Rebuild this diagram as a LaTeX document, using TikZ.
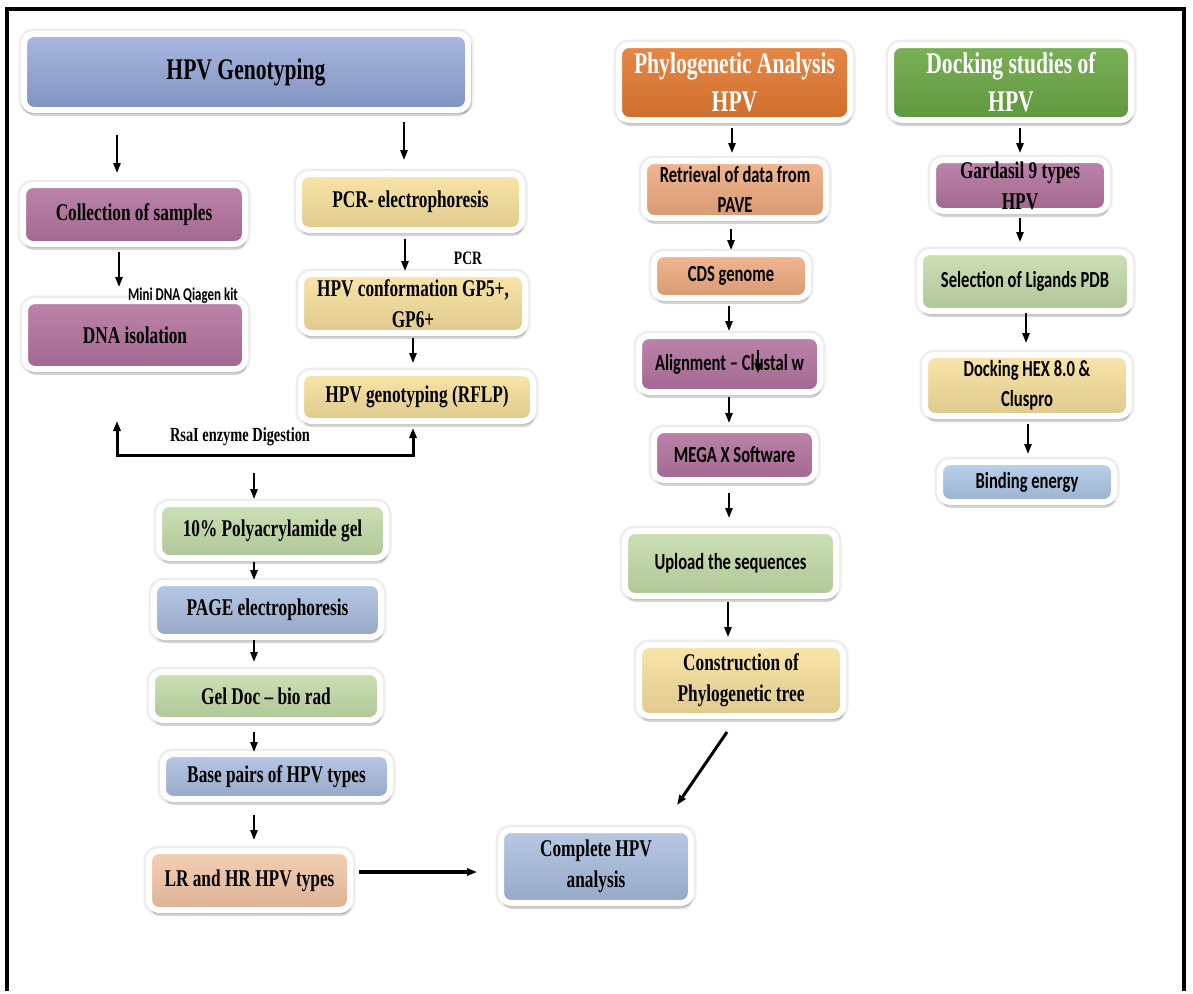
\documentclass[tikz,border=0pt]{standalone}
\usepackage{fontspec}
\usetikzlibrary{arrows.meta,shadows,calc}

\newfontfamily\tnrfont[FakeStretch=0.72]{Liberation Serif}
\newfontfamily\calfont[FakeStretch=0.72]{Carlito}

\definecolor{hpvblue}{HTML}{93A6DA}
\definecolor{purp}{HTML}{B4739F}
\definecolor{yell}{HTML}{F8E09B}
\definecolor{lgreen}{HTML}{C3DCA9}
\definecolor{lblue}{HTML}{AABFE0}
\definecolor{peach}{HTML}{F4C6A6}
\definecolor{lorange}{HTML}{EFAA7E}
\definecolor{orng}{HTML}{E57A31}
\definecolor{dgreen}{HTML}{6BA745}
\definecolor{skyblue}{HTML}{AECAE9}

\tikzstyle{box}=[rounded corners=5pt,draw=white,line width=3pt,inner sep=0pt,outer sep=0pt,align=center,
  drop shadow={shadow xshift=0.6pt,shadow yshift=-3pt,opacity=0.12,fill=black},
  drop shadow={shadow xshift=0.3pt,shadow yshift=-1.5pt,shadow scale=1.015,opacity=0.15,fill=black},
  preaction={draw=black,draw opacity=0.07,line width=5.5pt}]
\tikzstyle{bluehead}=[box,top color=hpvblue!80!white,bottom color=hpvblue!88!black]
\tikzstyle{orangehead}=[box,top color=orng!90!white,bottom color=orng!90!black,text=white]
\tikzstyle{greenhead}=[box,top color=dgreen!90!white,bottom color=dgreen!90!black,text=white]
\tikzstyle{purpbox}=[box,top color=purp!88!white,bottom color=purp!90!black]
\tikzstyle{yellbox}=[box,top color=yell!85!white,bottom color=yell!90!black]
\tikzstyle{greenbox}=[box,top color=lgreen!85!white,bottom color=lgreen!90!black]
\tikzstyle{bluebox}=[box,top color=lblue!85!white,bottom color=lblue!88!black]
\tikzstyle{peachbox}=[box,top color=peach!85!white,bottom color=peach!90!black]
\tikzstyle{orangebox}=[box,top color=lorange!85!white,bottom color=lorange!90!black]
\tikzstyle{skybox}=[box,top color=skyblue!85!white,bottom color=skyblue!88!black]
\tikzstyle{serif}=[font=\tnrfont\bfseries\fontsize{12}{15.5}\selectfont]
\tikzstyle{sans}=[font=\calfont\bfseries\fontsize{11.5}{15}\selectfont]
\tikzstyle{head}=[font=\tnrfont\bfseries\fontsize{15}{19}\selectfont]
\tikzstyle{arr}=[-{Triangle[length=5pt,width=3.6pt]},line width=1pt]

\begin{document}
\begin{tikzpicture}[x=0.5pt,y=-0.5pt]

   \fill[white] (0,0) rectangle (1193,991);
   \draw[line width=2pt] (6.5,991) -- (6.5,8.5) -- (1184,8.5) -- (1184,991);

   % HPV genotyping
   \node[bluehead,head,minimum width=222pt,minimum height=38pt] (gen) at (246,72) {HPV Genotyping};
   \node[purpbox,serif,minimum width=111pt,minimum height=29.5pt] (col) at (134,214.5) {Collection of samples};
   \node[purpbox,serif,minimum width=110pt,minimum height=34pt] (dna) at (135,335) {DNA isolation};
   \node[yellbox,serif,minimum width=111.5pt,minimum height=28pt] (pcr) at (410.5,202) {PCR- electrophoresis};
   \node[yellbox,serif,minimum width=112pt,minimum height=29.5pt] (conf) at (413,303.5) {HPV conformation GP5+,\\GP6+};
   \node[yellbox,serif,minimum width=116pt,minimum height=24pt] (rflp) at (417,397) {HPV genotyping (RFLP)};
   \node[greenbox,serif,minimum width=113.5pt,minimum height=27pt] (poly) at (272.5,531) {10\% Polyacrylamide gel};
   \node[bluebox,serif,minimum width=113.5pt,minimum height=27pt] (page) at (267.5,610) {PAGE electrophoresis};
   \node[greenbox,serif,minimum width=114pt,minimum height=24pt] (geldoc) at (266,696) {Gel Doc – bio rad};
   \node[bluebox,serif,minimum width=113.5pt,minimum height=22.5pt] (bp) at (276.5,776.5) {Base pairs of HPV types};
   \node[peachbox,serif,minimum width=100.5pt,minimum height=29.5pt] (lrhr) at (249.5,880.5) {LR and HR HPV types};
   \node[bluebox,serif,minimum width=95pt,minimum height=36.5pt] (compl) at (596,866.5) {Complete HPV\\analysis};

   % phylogenetic analysis
   \node[orangehead,head,minimum width=115.5pt,minimum height=37.5pt] (phylo) at (734.5,82.5) {Phylogenetic Analysis\\HPV};
   \node[orangebox,sans,minimum width=91pt,minimum height=28.5pt] (retr) at (735,189.5) {Retrieval of data from\\PAVE};
   \node[orangebox,sans,minimum width=77pt,minimum height=22pt] (cds) at (731,276) {CDS genome};
   \node[purpbox,sans,minimum width=90.5pt,minimum height=28pt] (align) at (729.5,364) {Alignment – Clustal w};
   \node[purpbox,sans,minimum width=80.5pt,minimum height=25pt] (mega) at (734.5,455) {MEGA X Software};
   \node[greenbox,sans,minimum width=105.5pt,minimum height=32.5pt] (upl) at (730.5,563.5) {Upload the sequences};
   \node[yellbox,serif,minimum width=102pt,minimum height=35.5pt] (cons) at (741,680.5) {Construction of\\Phylogenetic tree};

   % docking
   \node[greenhead,head,minimum width=120pt,minimum height=37.5pt] (dock) at (1011,82.5) {Docking studies of\\HPV};
   \node[purpbox,serif,minimum width=87pt,minimum height=25.5pt] (gard) at (1020,185.5) {Gardasil 9 types\\HPV};
   \node[greenbox,sans,minimum width=105pt,minimum height=29.5pt] (sel) at (1025,281.5) {Selection of Ligands PDB};
   \node[yellbox,sans,minimum width=102pt,minimum height=30.5pt] (hex) at (1027,385.5) {Docking HEX 8.0 \&\\Cluspro};
   \node[skybox,sans,minimum width=87pt,minimum height=20pt] (bind) at (1027,482) {Binding energy};

   % side notes
   \node[font=\calfont\bfseries\fontsize{9}{10}\selectfont] (qiagen) at (183,296) {Mini DNA Qiagen kit};
   \node[font=\tnrfont\bfseries\fontsize{9.5}{11}\selectfont] (pcrlbl) at (468,258) {PCR};
   \node[font=\tnrfont\bfseries\fontsize{10}{12}\selectfont] (rsai) at (240,437) {RsaI enzyme Digestion};

   \draw[arr] ($(gen.south -| 117,0)+(0,25)$) -- ($(col.north -| 117,0)+(0,-12)$);
   \draw[arr] ($(gen.south -| 404,0)+(0,12)$) -- ($(pcr.north -| 404,0)+(0,-14)$);
   \draw[arr] ($(col.south -| 119,0)+(0,8)$) -- ($(dna.north -| 119,0)+(0,-14)$);
   \draw[arr] ($(pcr.south -| 405,0)+(0,9)$) -- ($(conf.north -| 405,0)+(0,-3)$);
   \draw[arr] ($(conf.south -| 413,0)+(0,5)$) -- ($(rflp.north -| 413,0)+(0,-10)$);

   \coordinate (dig) at (254,455);
   \draw[{Triangle[length=5pt,width=3.6pt]}-{Triangle[length=5pt,width=3.6pt]},line width=1.5pt]
      ($(dna.south -| 117,0)+(0,52)$) |- (dig) -| ($(rflp.south -| 413,0)+(0,7)$);

   \draw[arr] ($(dig)+(0,18)$) -- ($(poly.north -| 254,0)+(0,-5)$);
   \draw[arr] ($(poly.south -| 254,0)+(0,4)$) -- ($(page.north -| 254,0)+(0,-3)$);
   \draw[arr] ($(page.south -| 254,0)+(0,3)$) -- ($(geldoc.north -| 254,0)+(0,-10)$);
   \draw[arr] ($(geldoc.south -| 254,0)+(0,12)$) -- ($(bp.north -| 254,0)+(0,-2)$);
   \draw[arr] ($(bp.south -| 254,0)+(0,16)$) -- ($(lrhr.north -| 254,0)+(0,-11)$);
   \draw[arr,line width=2pt] ($(lrhr.east |- 0,872)+(9,0)$) -- ($(compl.west |- 0,872)+(-24,0)$);
   \draw[arr,line width=1.5pt] ($(cons.south)+(-14,16)$) -- ($(compl.north)+(81,-25)$);

   \draw[arr] ($(phylo.south -| 732,0)+(0,8)$) -- ($(retr.north -| 732,0)+(0,-8)$);
   \draw[arr] ($(retr.south -| 731,0)+(0,11)$) -- ($(cds.north -| 731,0)+(0,-4)$);
   \draw[arr] ($(cds.south -| 729,0)+(0,8)$) -- ($(align.north -| 729,0)+(0,-5)$);
   \draw[arr,line width=0.7pt] ($(align.north -| 758,0)+(0,14)$) -- ($(align.north -| 758,0)+(0,37)$);
   \draw[arr] ($(align.south -| 729,0)+(0,5)$) -- ($(mega.north -| 729,0)+(0,-7)$);
   \draw[arr] ($(mega.south -| 729,0)+(0,13)$) -- ($(upl.north -| 729,0)+(0,-13)$);
   \draw[arr] ($(upl.south -| 728,0)+(0,6)$) -- ($(cons.north -| 728,0)+(0,-8)$);

   \draw[arr] ($(dock.south -| 1020,0)+(0,8)$) -- ($(gard.north -| 1020,0)+(0,-7)$);
   \draw[arr] ($(gard.south -| 1020,0)+(0,7)$) -- ($(sel.north -| 1020,0)+(0,-10)$);
   \draw[arr] ($(sel.south -| 1026,0)+(0,2)$) -- ($(hex.north -| 1026,0)+(0,-12)$);
   \draw[arr] ($(hex.south -| 1028,0)+(0,8)$) -- ($(bind.north -| 1028,0)+(0,-8)$);

\end{tikzpicture}
\end{document}
